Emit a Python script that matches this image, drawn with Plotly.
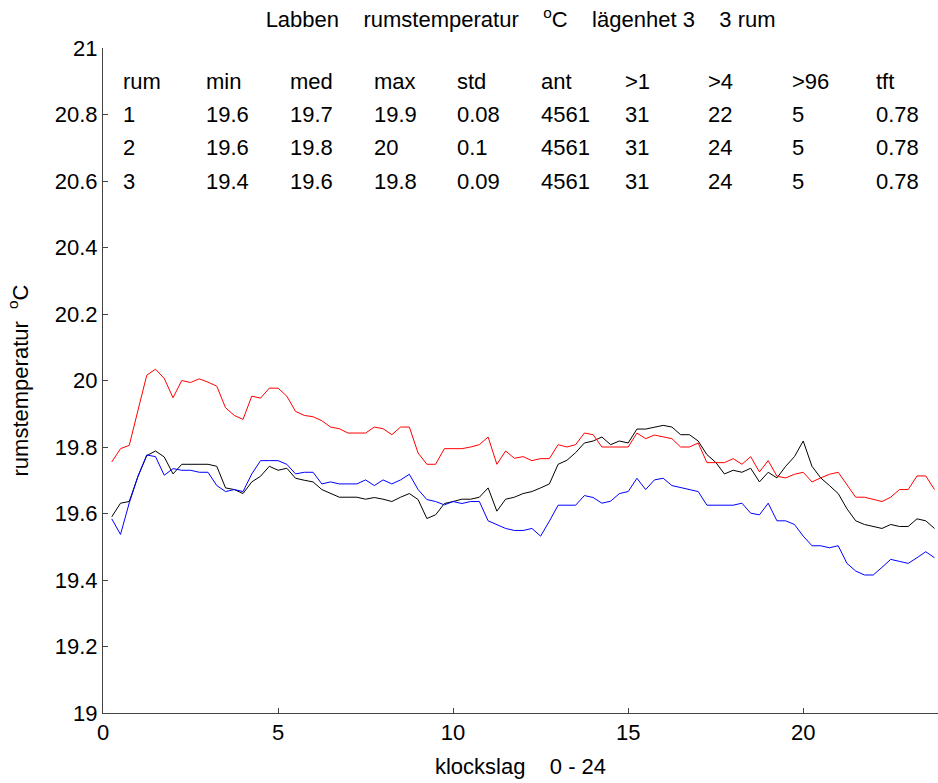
import plotly.graph_objects as go

# time of day (hours), 15-minute steps
hours = [0.25 * (k + 1) for k in range(95)]

rum1 = [19.590, 19.631, 19.636, 19.712, 19.774, 19.788, 19.770, 19.719, 19.748, 19.748,
        19.748, 19.748, 19.742, 19.677, 19.672, 19.660, 19.695, 19.712, 19.742, 19.730,
        19.736, 19.706, 19.700, 19.695, 19.672, 19.660, 19.649, 19.649, 19.649, 19.643,
        19.648, 19.643, 19.636, 19.649, 19.660, 19.642, 19.585, 19.596, 19.630, 19.636,
        19.643, 19.643, 19.649, 19.677, 19.607, 19.643, 19.649, 19.660, 19.666, 19.677,
        19.689, 19.748, 19.760, 19.783, 19.812, 19.818, 19.830, 19.807, 19.818, 19.812,
        19.854, 19.854, 19.860, 19.865, 19.860, 19.837, 19.837, 19.818, 19.777, 19.754,
        19.719, 19.730, 19.724, 19.736, 19.695, 19.724, 19.707, 19.742, 19.771, 19.818,
        19.742, 19.707, 19.684, 19.660, 19.614, 19.578, 19.567, 19.561, 19.555, 19.567,
        19.561, 19.561, 19.584, 19.578, 19.555]

rum2 = [19.755, 19.795, 19.805, 19.910, 20.016, 20.034, 20.006, 19.948, 20.000, 19.994,
        20.005, 19.995, 19.983, 19.918, 19.895, 19.883, 19.953, 19.947, 19.977, 19.977,
        19.953, 19.907, 19.895, 19.891, 19.879, 19.860, 19.855, 19.842, 19.842, 19.842,
        19.860, 19.855, 19.837, 19.860, 19.860, 19.782, 19.748, 19.748, 19.795, 19.795,
        19.795, 19.800, 19.807, 19.830, 19.748, 19.788, 19.766, 19.771, 19.759, 19.765,
        19.765, 19.807, 19.800, 19.807, 19.842, 19.837, 19.800, 19.800, 19.800, 19.800,
        19.842, 19.825, 19.836, 19.831, 19.825, 19.800, 19.800, 19.812, 19.753, 19.753,
        19.753, 19.765, 19.748, 19.771, 19.725, 19.759, 19.712, 19.707, 19.718, 19.724,
        19.695, 19.707, 19.718, 19.724, 19.686, 19.649, 19.649, 19.643, 19.636, 19.649,
        19.672, 19.672, 19.713, 19.713, 19.672]

rum3 = [19.584, 19.537, 19.632, 19.712, 19.776, 19.771, 19.715, 19.735, 19.730, 19.730,
        19.724, 19.724, 19.684, 19.666, 19.672, 19.666, 19.719, 19.759, 19.759, 19.759,
        19.748, 19.719, 19.724, 19.724, 19.689, 19.695, 19.689, 19.689, 19.689, 19.701,
        19.684, 19.701, 19.689, 19.701, 19.718, 19.672, 19.642, 19.636, 19.626, 19.636,
        19.630, 19.636, 19.636, 19.578, 19.567, 19.555, 19.549, 19.549, 19.555, 19.532,
        19.577, 19.625, 19.625, 19.625, 19.654, 19.648, 19.631, 19.637, 19.660, 19.666,
        19.706, 19.672, 19.701, 19.706, 19.684, 19.678, 19.672, 19.666, 19.625, 19.625,
        19.625, 19.625, 19.631, 19.601, 19.596, 19.631, 19.578, 19.578, 19.567, 19.532,
        19.503, 19.503, 19.497, 19.503, 19.450, 19.427, 19.415, 19.415, 19.438, 19.462,
        19.456, 19.450, 19.467, 19.485, 19.467]

table_header = ["rum", "min", "med", "max", "std", "ant", ">1", ">4", ">96", "tft"]
table_rows = [
    ["1", "19.6", "19.7", "19.9", "0.08", "4561", "31", "22", "5", "0.78"],
    ["2", "19.6", "19.8", "20", "0.1", "4561", "31", "24", "5", "0.78"],
    ["3", "19.4", "19.6", "19.8", "0.09", "4561", "31", "24", "5", "0.78"],
]

y_ticks = [19, 19.2, 19.4, 19.6, 19.8, 20, 20.2, 20.4, 20.6, 20.8, 21]
y_tick_text = ["19", "19.2", "19.4", "19.6", "19.8", "20", "20.2", "20.4", "20.6", "20.8", "21"]
x_ticks = [0, 5, 10, 15, 20]

FONT = "Liberation Sans, Arial, sans-serif"
FS = 22

fig = go.Figure()
for ys, col in [(rum1, "black"), (rum2, "red"), (rum3, "blue")]:
    fig.add_trace(go.Scatter(x=hours, y=ys, mode="lines",
                             line=dict(color=col, width=1), showlegend=False,
                             hoverinfo="skip"))

# table of statistics as text annotations
col_x = [0.5 + 2.39 * i for i in range(len(table_header))]
row_y = [20.9, 20.8, 20.7, 20.6]
all_rows = [table_header] + table_rows
for r, row in enumerate(all_rows):
    for c, txt in enumerate(row):
        fig.add_annotation(x=col_x[c], y=row_y[r], text=txt, showarrow=False,
                           xanchor="left", yanchor="middle", xref="x", yref="y",
                           font=dict(size=FS, color="black", family=FONT))

fig.update_layout(
    width=938, height=783,
    margin=dict(l=103, r=0, t=48, b=70),
    paper_bgcolor="white", plot_bgcolor="white",
    font=dict(family=FONT, size=FS, color="black"),
    title=dict(text="Labben    rumstemperatur    <sup>o</sup>C    lägenhet 3    3 rum",
               x=0.555, xanchor="center", y=0.975, yanchor="middle",
               font=dict(size=FS, family=FONT)),
)
fig.update_xaxes(range=[0, 23.85], tickvals=x_ticks, ticks="inside", ticklen=5,
                 showline=True, linecolor="#444", linewidth=1, tickcolor="#444",
                 showgrid=False, zeroline=False, mirror=False,
                 title=dict(text="klockslag    0 - 24", standoff=14,
                            font=dict(size=FS, family=FONT)),
                 tickfont=dict(size=FS, family=FONT))
fig.update_yaxes(range=[19, 21], tickvals=y_ticks, ticktext=y_tick_text,
                 ticks="inside", ticklen=5,
                 showline=True, linecolor="#444", linewidth=1, tickcolor="#444",
                 showgrid=False, zeroline=False, mirror=False,
                 title=dict(text="rumstemperatur  <sup>o</sup>C", standoff=20,
                            font=dict(size=FS, family=FONT)),
                 tickfont=dict(size=FS, family=FONT))

fig.write_html("out.html")
